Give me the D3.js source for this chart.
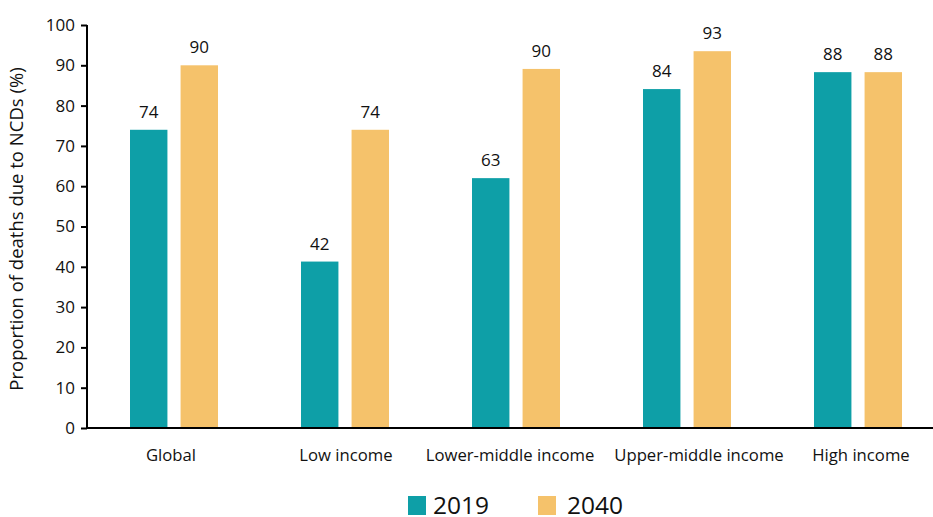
<!DOCTYPE html>
<html>
<head>
<meta charset="utf-8">
<script src="https://cdn.jsdelivr.net/npm/d3@7"></script>
<style>
  body { margin: 0; background: #fff; }
  svg { display: block; font-family: "Open Sans", "Noto Sans", sans-serif; }
</style>
</head>
<body>
<svg id="chart" width="933" height="517"></svg>
<script>
// categories and series
var categories = ['Global', 'Low income', 'Lower-middle income', 'Upper-middle income', 'High income'];
var seriesNames = ['2019', '2040'];
var values2019 = [74, 41.3, 62, 84.1, 88.3];
var values2040 = [90, 74, 89.1, 93.5, 88.3];
var labels2019 = ['74', '42', '63', '84', '88'];
var labels2040 = ['90', '74', '90', '93', '88'];
var yTicks = [0, 10, 20, 30, 40, 50, 60, 70, 80, 90, 100];
var colors = ['#0e9fa7', '#f5c26b'];

// small nudges so category labels sit as in the original layout
var catLabelDx = [-3, 1, -6, 12, 3];

var svg = d3.select('#chart');
var axisX = 87, mRight = 933, mTop = 25, mBottom = 428;
var bandLeft = 88.5, step = 171;

var x = d3.scaleBand().domain(categories).range([bandLeft, bandLeft + step * categories.length]);
var xs = d3.scaleBand().domain(seriesNames).range([x.bandwidth() / 2 - 44, x.bandwidth() / 2 + 44]).paddingInner(0.26);
var y = d3.scaleLinear().domain([0, 100]).range([mBottom, mTop]);

// y axis
var yAxis = svg.append('g')
  .attr('transform', 'translate(' + axisX + ',0)')
  .call(d3.axisLeft(y).tickValues(yTicks).tickSize(6).tickPadding(6));
yAxis.select('.domain').attr('stroke', '#000').attr('stroke-width', 2).attr('d', 'M0,' + mTop + 'V' + mBottom);
yAxis.selectAll('.tick line').attr('stroke', '#000').attr('stroke-width', 2);
yAxis.selectAll('.tick text').attr('font-size', 17).attr('fill', '#111').attr('font-family', '"Open Sans", sans-serif');

svg.append('text')
  .attr('transform', 'translate(23,229) rotate(-90)')
  .attr('text-anchor', 'middle')
  .attr('font-size', 18.5)
  .attr('fill', '#111')
  .text('Proportion of deaths due to NCDs (%)');

// bars
var rows = categories.map(function(c, i) {
  return { cat: c, vals: [values2019[i], values2040[i]], labels: [labels2019[i], labels2040[i]] };
});

var groups = svg.selectAll('.grp').data(rows).enter().append('g')
  .attr('class', 'grp')
  .attr('transform', function(d) { return 'translate(' + x(d.cat) + ',0)'; });

groups.selectAll('rect').data(function(d) {
  return seriesNames.map(function(s, j) { return { s: s, v: d.vals[j], j: j }; });
}).enter().append('rect')
  .attr('x', function(d) { return xs(d.s); })
  .attr('width', xs.bandwidth())
  .attr('y', function(d) { return y(d.v); })
  .attr('height', function(d) { return mBottom - y(d.v); })
  .attr('fill', function(d) { return colors[d.j]; });

groups.selectAll('text.val').data(function(d) {
  return seriesNames.map(function(s, j) { return { s: s, v: d.vals[j], l: d.labels[j] }; });
}).enter().append('text')
  .attr('class', 'val')
  .attr('x', function(d) { return xs(d.s) + xs.bandwidth() / 2; })
  .attr('y', function(d) { return y(d.v) - 12; })
  .attr('text-anchor', 'middle')
  .attr('font-size', 17)
  .attr('fill', '#111')
  .text(function(d) { return d.l; });

// x axis
svg.append('line')
  .attr('x1', axisX).attr('x2', mRight)
  .attr('y1', mBottom).attr('y2', mBottom)
  .attr('stroke', '#000').attr('stroke-width', 2);

svg.selectAll('.cat').data(categories).enter().append('text')
  .attr('class', 'cat')
  .attr('x', function(d, i) { return x(d) + x.bandwidth() / 2 + catLabelDx[i]; })
  .attr('y', 461)
  .attr('text-anchor', 'middle')
  .attr('font-size', 16.7)
  .attr('fill', '#111')
  .text(function(d) { return d; });

// legend
var legendX = [408, 538];
var legend = svg.selectAll('.leg').data(seriesNames).enter().append('g')
  .attr('class', 'leg')
  .attr('transform', function(d, i) { return 'translate(' + legendX[i] + ',496)'; });
legend.append('rect').attr('width', 18).attr('height', 19).attr('fill', function(d, i) { return colors[i]; });
legend.append('text')
  .attr('x', function(d, i) { return i === 0 ? 25 : 29; })
  .attr('y', 18)
  .attr('font-size', 24.5)
  .attr('fill', '#111')
  .text(function(d) { return d; });
</script>
</body>
</html>
